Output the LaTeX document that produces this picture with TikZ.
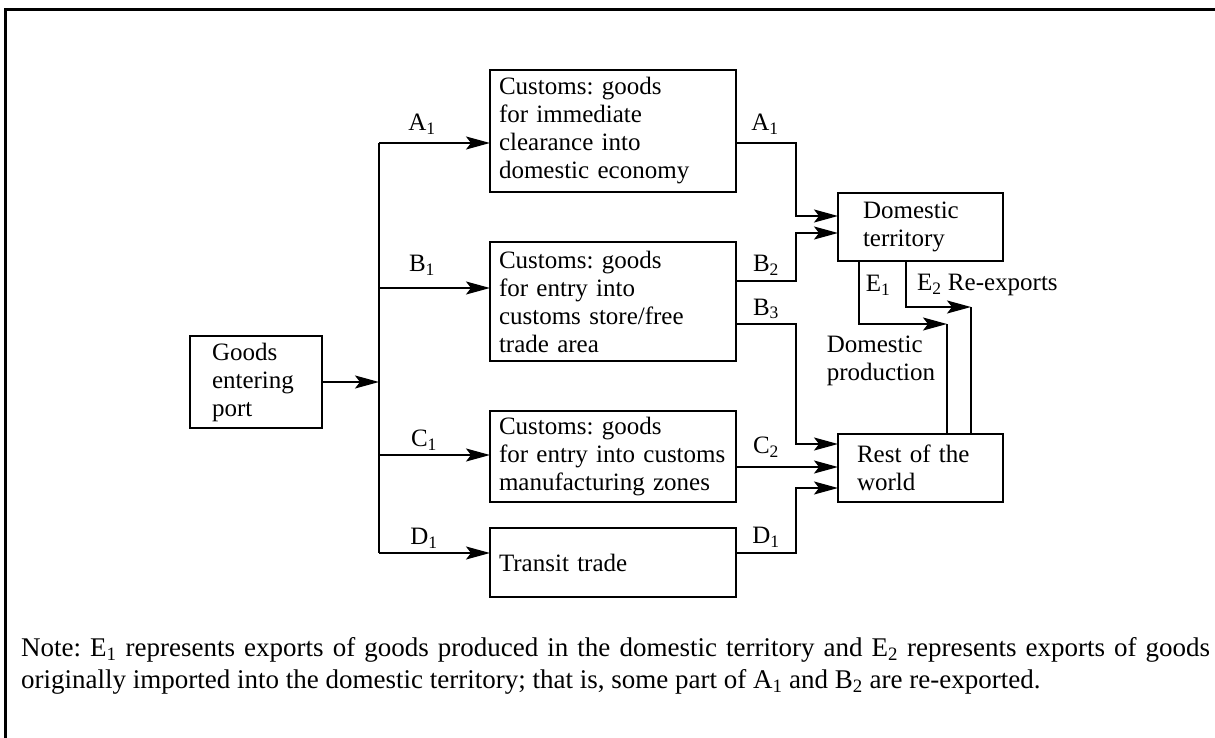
\documentclass[tikz,border=0pt]{standalone}
\usepackage{fontspec}
\setmainfont{Liberation Serif}
\usetikzlibrary{arrows.meta}

\begin{document}
\frenchspacing
\begin{tikzpicture}[x = 1pt, y = -1pt,
		box/.style = {draw, line width=1.8pt, anchor=north west, outer sep=0pt, align=left, inner xsep=9pt, inner ysep=0pt, font=\fontsize{25}{28}\selectfont},
		flow/.style = {line width=1.8pt, -{Stealth[length=24pt, width=13pt, inset=5pt]}},
		link/.style = {line width=1.8pt},
		lab/.style = {inner sep=0pt, font=\fontsize{25}{28}\selectfont}]
		\useasboundingbox (0,0) rectangle (1215,738);
		\draw [line width=3pt] (5.5,738) -- (5.5,9.5) -- (1215,9.5);
		\node [box, minimum width=132pt, minimum height=92pt, text width=88pt, inner xsep=22pt] (goods) at (190,336) {Goods\\entering\\port};
		\node [box, minimum width=246pt, minimum height=122pt, text width=228pt] (clear) at (490,70) {Customs: goods\\for immediate\\clearance into\\domestic economy};
		\node [box, minimum width=246pt, minimum height=119pt, text width=228pt] (store) at (490,242) {Customs: goods\\for entry into\\customs store/free\\trade area};
		\node [box, minimum width=246pt, minimum height=91pt, text width=228pt] (zones) at (490,411) {Customs: goods\\for entry into customs\\manufacturing zones};
		\node [box, minimum width=246pt, minimum height=69pt, text width=228pt] (transit) at (490,528) {Transit trade};
		\node [box, minimum width=165pt, minimum height=68pt, text width=115pt, inner xsep=25pt] (dom) at (838,193) {Domestic\\territory};
		\node [box, minimum width=165pt, minimum height=68pt, text width=127pt, inner xsep=19pt] (world) at (838,434) {Rest of the\\world};
		\coordinate (tA) at (379,143);
		\coordinate (tB) at (379,288);
		\coordinate (tC) at (379,455);
		\coordinate (tD) at (379,553);
		\coordinate (e1) at (947,324);
		\coordinate (e2) at (971,307);
		\draw [link] (tA) -- (tD);
		\draw [flow] (goods.east) -- (goods.east -| tA);
		\draw [flow] (tA) -- (tA -| clear.west);
		\draw [flow] (tB) -- (tB -| store.west);
		\draw [flow] (tC) -- (tC -| zones.west);
		\draw [flow] (tD) -- (tD -| transit.west);
		\draw [flow] ([yshift=-12pt]clear.east) -- ++(60,0) |- ([yshift=11pt]dom.west);
		\draw [flow] ([yshift=20.5pt]store.east) -- ++(60,0) |- ([yshift=-6pt]dom.west);
		\draw [flow] ([yshift=-22.5pt]store.east) -- ++(60,0) |- ([yshift=24pt]world.west);
		\draw [flow] ([yshift=-10.5pt]zones.east) -- ([yshift=-10.5pt]zones.east -| world.west);
		\draw [flow] ([yshift=9.5pt]transit.east) -- ++(60,0) |- ([yshift=-20pt]world.west);
		\draw [flow] ([xshift=-61.5pt]dom.south) |- (e1);
		\draw [link] (e1) -- (e1 |- world.north);
		\draw [flow] ([xshift=-14.5pt]dom.south) |- (e2);
		\draw [link] (e2) -- (e2 |- world.north);
		\node [lab] (inA) at (422,124) {A\textsubscript{1}};
		\node [lab] (inB) at (422,265) {B\textsubscript{1}};
		\node [lab] (inC) at (424,440) {C\textsubscript{1}};
		\node [lab] (inD) at (424,538) {D\textsubscript{1}};
		\node [lab] (outA) at (765,124) {A\textsubscript{1}};
		\node [lab] (outB) at (766,265) {B\textsubscript{2}};
		\node [lab] (outBB) at (766,309) {B\textsubscript{3}};
		\node [lab] (outC) at (766,447) {C\textsubscript{2}};
		\node [lab] (outD) at (766,537) {D\textsubscript{1}};
		\node [lab] (labE1) at (878,285) {E\textsubscript{1}};
		\node [lab, anchor=west] (labE2) at (917,285) {E\textsubscript{2} Re-exports};
		\node [lab, align=left] (prod) at (881,361) {Domestic\\production};
		\node [anchor=north west, inner sep=0pt, text width=1189pt, align=justify, font=\fontsize{27}{32}\selectfont] (note) at (21,637) {Note: E\textsubscript{1} represents exports of goods produced in the domestic territory and E\textsubscript{2} represents exports of goods\linebreak originally imported into the domestic territory; that is, some part of A\textsubscript{1} and B\textsubscript{2} are re-exported.};
	\end{tikzpicture}
\end{document}
